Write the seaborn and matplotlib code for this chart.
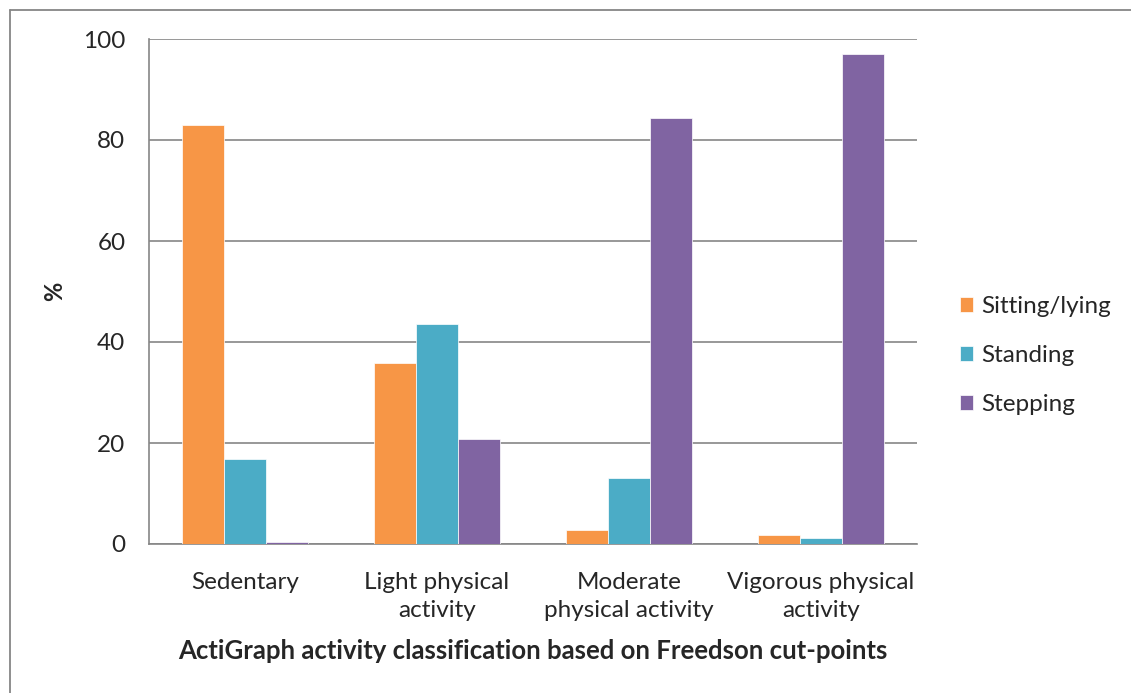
import matplotlib
matplotlib.use('Agg')
import matplotlib.pyplot as plt
from matplotlib.lines import Line2D
import pandas as pd
import seaborn as sns

# ── Data ──────────────────────────────────────────────────────────────────────
categories = ['Sedentary', 'Light physical\nactivity',
              'Moderate\nphysical activity', 'Vigorous physical\nactivity']
sitting  = [83.0, 35.8, 2.8, 1.8]
standing = [16.8, 43.6, 13.1, 1.2]
stepping = [0.3, 20.8, 84.4, 97.0]
series   = ['Sitting/lying', 'Standing', 'Stepping']
colors   = ['#F79646', '#4BACC6', '#8064A2']

df = pd.DataFrame({'category': categories * 3,
                   'posture': [s for s in series for _ in categories],
                   'pct': sitting + standing + stepping})

sns.set_style('white')
plt.rcParams['font.family'] = ['Lato', 'DejaVu Sans']

fig = plt.figure(figsize=(11.31, 6.93), dpi=100)
ax = fig.add_axes([149 / 1131, 1 - 544 / 693, (917 - 149) / 1131, (544 - 39) / 693])

sns.barplot(data=df, x='category', y='pct', hue='posture', palette=colors,
            width=0.656, saturation=1, linewidth=0.5, edgecolor='white',
            ax=ax, zorder=3)

grey = '#868686'
ax.set_ylim(0, 100)
ax.set_xlim(-0.5, 3.5)
ax.set_yticks(range(0, 101, 20))
ax.yaxis.grid(True, color=grey, linewidth=1.2, zorder=0)
ax.set_axisbelow(True)
for side in ['top', 'right']:
    ax.spines[side].set_visible(False)
for side in ['left', 'bottom']:
    ax.spines[side].set_color(grey)
    ax.spines[side].set_linewidth(1.2)

ax.set_xticks([0, 1, 2, 3])
ax.set_xticklabels(categories, fontsize=17.5, linespacing=1.45)
ax.tick_params(axis='x', length=0, pad=20)
ax.set_xticks([-0.5, 0.5, 1.5, 2.5, 3.5], minor=True)
ax.tick_params(axis='x', which='minor', length=9, width=1.2, color=grey,
               direction='out')
ax.tick_params(axis='y', length=7, width=1.2, color=grey, labelsize=17.5, pad=10)

ax.set_xlabel('ActiGraph activity classification based on Freedson cut-points',
              fontsize=18.5, fontweight='bold', labelpad=13)
ax.set_ylabel('%', fontsize=17, fontweight='bold', labelpad=12)

ax.legend(loc='center left', bbox_to_anchor=(1.027, 0.373), frameon=False,
          fontsize=17.5, handlelength=0.55, handleheight=0.55, handletextpad=0.35,
          labelspacing=1.15, title=None)

# outer chart border (top and left edges visible)
fig.add_artist(Line2D([10 / 1131, 10 / 1131], [0, 1 - 10 / 693], color=grey, lw=1.3))
fig.add_artist(Line2D([10 / 1131, 1], [1 - 10 / 693, 1 - 10 / 693], color=grey, lw=1.3))

fig.savefig('out.png', dpi=100)
